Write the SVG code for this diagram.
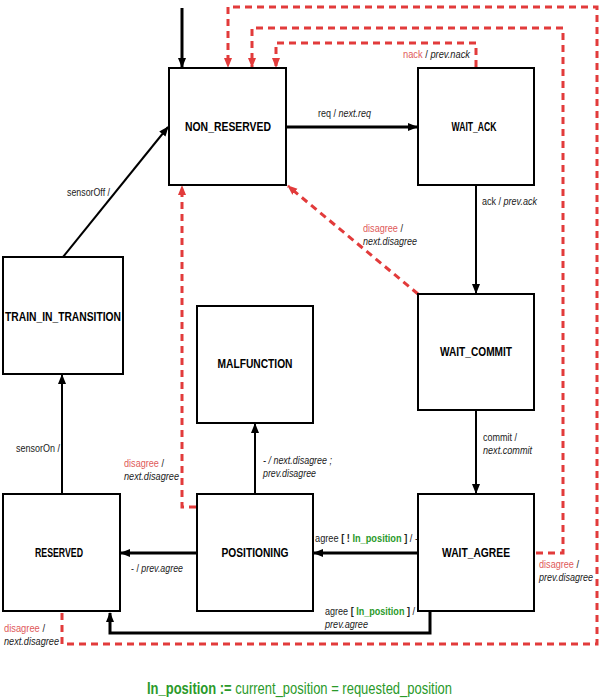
<svg xmlns="http://www.w3.org/2000/svg" width="600" height="700" viewBox="0 0 600 700">
<style>
.box{fill:#fff;stroke:#000;stroke-width:2}
.nl{font-family:"Liberation Sans",Arial,sans-serif;font-size:12px;font-weight:bold;text-anchor:middle;fill:#000}
.lb{font-family:"Liberation Sans",Arial,sans-serif;font-size:11px;fill:#222}
.it{font-style:italic}
.rd{fill:#e05a5a}
.gr{fill:#2a9a2a;font-weight:bold}
.bd{font-weight:bold}
.ln{fill:none;stroke:#000;stroke-width:3}
.ln2{fill:none;stroke:#000;stroke-width:2}
.dl{fill:none;stroke:#e23b3b;stroke-width:3;stroke-dasharray:7,5}
</style>
<defs>
<marker id="ab" markerWidth="10" markerHeight="10" refX="9" refY="5" orient="auto" markerUnits="userSpaceOnUse">
<path d="M0,1 L10,5 L0,9 Z" fill="#000"/>
</marker>
<marker id="ar" markerWidth="10" markerHeight="10" refX="9" refY="5" orient="auto" markerUnits="userSpaceOnUse">
<path d="M0,1 L10,5 L0,9 Z" fill="#e23b3b"/>
</marker>
</defs>
<g id="connectors">
<line class="ln" x1="182" y1="8" x2="182" y2="67" marker-end="url(#ab)"/>
<line class="ln" x1="287" y1="127" x2="417" y2="127" marker-end="url(#ab)"/>
<line class="ln2" x1="476" y1="186" x2="476" y2="293" marker-end="url(#ab)"/>
<line class="ln2" x1="476" y1="411" x2="476" y2="493" marker-end="url(#ab)"/>
<line class="ln" x1="417" y1="553" x2="314" y2="553" marker-end="url(#ab)"/>
<line class="ln" x1="196" y1="553" x2="121" y2="553" marker-end="url(#ab)"/>
<line class="ln2" x1="255" y1="493" x2="255" y2="424" marker-end="url(#ab)"/>
<polyline class="ln" points="430,612 430,633 110,633 110,613" marker-end="url(#ab)"/>
<line class="ln2" x1="62" y1="493" x2="62" y2="375" marker-end="url(#ab)"/>
<line class="ln2" x1="63" y1="257" x2="168" y2="127" marker-end="url(#ab)"/>
<polyline class="dl" points="62,613 62,644 597,644 597,7 228,7 228,67" marker-end="url(#ar)"/>
<polyline class="dl" points="536,553 563,553 563,28 252,28 252,67" marker-end="url(#ar)"/>
<polyline class="dl" points="476,67 476,43 276,43 276,67" marker-end="url(#ar)"/>
<line class="dl" x1="418" y1="294" x2="288" y2="186" marker-end="url(#ar)"/>
<polyline class="dl" points="196,507 182,507 182,186" marker-end="url(#ar)"/>
<text class="lb" x="318" y="117" textLength="53" lengthAdjust="spacingAndGlyphs">req / <tspan class="it">next.req</tspan></text>
<text class="lb" x="403" y="58" textLength="67" lengthAdjust="spacingAndGlyphs"><tspan class="rd">nack</tspan> / <tspan class="it">prev.nack</tspan></text>
<text class="lb" x="482" y="205" textLength="55" lengthAdjust="spacingAndGlyphs">ack / <tspan class="it">prev.ack</tspan></text>
<text class="lb" x="363" y="232" textLength="40" lengthAdjust="spacingAndGlyphs"><tspan class="rd">disagree</tspan> /</text>
<text class="lb it" x="363" y="245" textLength="54" lengthAdjust="spacingAndGlyphs">next.disagree</text>
<text class="lb" x="483" y="441" textLength="34" lengthAdjust="spacingAndGlyphs">commit /</text>
<text class="lb it" x="483" y="454" textLength="49" lengthAdjust="spacingAndGlyphs">next.commit</text>
<text class="lb" x="315" y="542" textLength="103" lengthAdjust="spacingAndGlyphs">agree <tspan class="bd">[ ! </tspan><tspan class="gr">In_position</tspan><tspan class="bd"> ]</tspan> / -</text>
<text class="lb" x="539" y="568" textLength="40" lengthAdjust="spacingAndGlyphs"><tspan class="rd">disagree</tspan> /</text>
<text class="lb it" x="539" y="581" textLength="54" lengthAdjust="spacingAndGlyphs">prev.disagree</text>
<text class="lb" x="325" y="615" textLength="90" lengthAdjust="spacingAndGlyphs">agree <tspan class="bd">[ </tspan><tspan class="gr">In_position</tspan><tspan class="bd"> ]</tspan> /</text>
<text class="lb it" x="325" y="628" textLength="43" lengthAdjust="spacingAndGlyphs">prev.agree</text>
<text class="lb" x="4" y="632" textLength="41" lengthAdjust="spacingAndGlyphs"><tspan class="rd">disagree</tspan> /</text>
<text class="lb it" x="4" y="645" textLength="55" lengthAdjust="spacingAndGlyphs">next.disagree</text>
<text class="lb" x="131" y="572" textLength="52" lengthAdjust="spacingAndGlyphs">- / <tspan class="it">prev.agree</tspan></text>
<text class="lb it" x="263" y="464" textLength="69" lengthAdjust="spacingAndGlyphs">- / next.disagree ;</text>
<text class="lb it" x="263" y="477" textLength="53" lengthAdjust="spacingAndGlyphs">prev.disagree</text>
<text class="lb" x="124" y="467" textLength="40" lengthAdjust="spacingAndGlyphs"><tspan class="rd">disagree</tspan> /</text>
<text class="lb it" x="124" y="480" textLength="55" lengthAdjust="spacingAndGlyphs">next.disagree</text>
<text class="lb" x="16" y="452" textLength="44" lengthAdjust="spacingAndGlyphs">sensorOn /</text>
<text class="lb" x="67" y="196" textLength="43" lengthAdjust="spacingAndGlyphs">sensorOff /</text>
</g>
<g id="NON_RESERVED"><rect class="box" x="169" y="68" width="117" height="117"/><text class="nl" x="228" y="131" textLength="86" lengthAdjust="spacingAndGlyphs">NON_RESERVED</text></g>
<g id="WAIT_ACK"><rect class="box" x="418" y="68" width="116" height="117"/><text class="nl" x="474" y="131" textLength="45" lengthAdjust="spacingAndGlyphs">WAIT_ACK</text></g>
<g id="WAIT_COMMIT"><rect class="box" x="418" y="294" width="116" height="116"/><text class="nl" x="476" y="356" textLength="72" lengthAdjust="spacingAndGlyphs">WAIT_COMMIT</text></g>
<g id="WAIT_AGREE"><rect class="box" x="418" y="494" width="116" height="117"/><text class="nl" x="476" y="557" textLength="68" lengthAdjust="spacingAndGlyphs">WAIT_AGREE</text></g>
<g id="POSITIONING"><rect class="box" x="197" y="494" width="116" height="117"/><text class="nl" x="255" y="557" textLength="67" lengthAdjust="spacingAndGlyphs">POSITIONING</text></g>
<g id="MALFUNCTION"><rect class="box" x="197" y="306" width="116" height="117"/><text class="nl" x="255" y="368" textLength="75" lengthAdjust="spacingAndGlyphs">MALFUNCTION</text></g>
<g id="RESERVED"><rect class="box" x="3" y="494" width="117" height="117"/><text class="nl" x="59" y="557" textLength="48" lengthAdjust="spacingAndGlyphs">RESERVED</text></g>
<g id="TRAIN_IN_TRANSITION"><rect class="box" x="3" y="257" width="120" height="117"/><text class="nl" x="63" y="321" textLength="116" lengthAdjust="spacingAndGlyphs">TRAIN_IN_TRANSITION</text></g>
<text x="147" y="694" textLength="305" lengthAdjust="spacingAndGlyphs" style="font-family:'Liberation Sans',Arial,sans-serif;font-size:16px;fill:#2a9a2a"><tspan font-weight="bold">In_position :=</tspan> current_position = requested_position</text>
</svg>
